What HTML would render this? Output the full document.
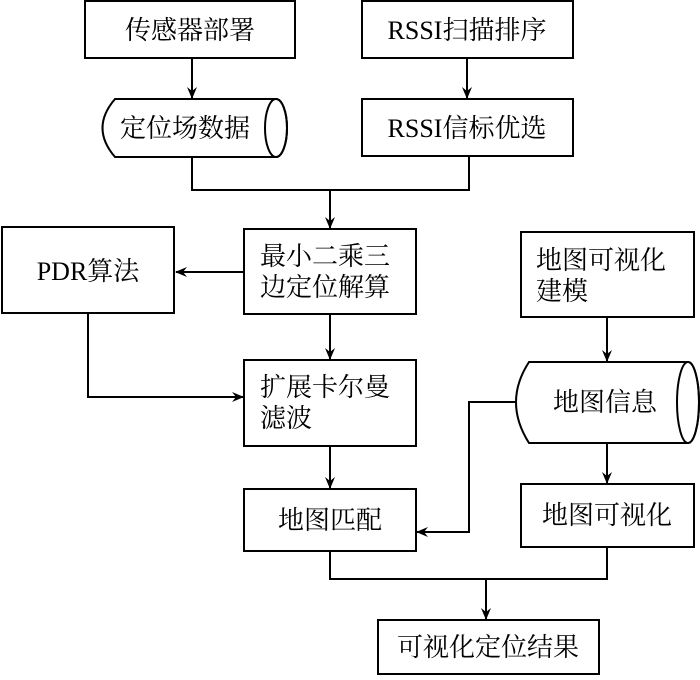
<!DOCTYPE html>
<html><head><meta charset="utf-8"><style>
html,body{margin:0;padding:0;background:#fff;}
svg text{font-family:"Liberation Serif","Noto Serif CJK SC",serif;font-size:26px;fill:#000;}
</style></head><body>
<svg width="700" height="675" viewBox="0 0 700 675" xmlns="http://www.w3.org/2000/svg">
<defs><marker id="a" markerWidth="12" markerHeight="10" refX="11" refY="5" orient="auto" markerUnits="userSpaceOnUse"><path d="M0,0 L12,5 L0,10 L4,5 Z" fill="#000"/></marker></defs>
<g fill="none" stroke="#000" stroke-width="2">
<rect x="85" y="1" width="210" height="57"/>
<rect x="362" y="1" width="211" height="57"/>
<path d="M115,99 L276,99 A11,29 0 0 1 276,157 L115,157 Q90,128 115,99 Z"/>
<ellipse cx="276" cy="128" rx="11" ry="29"/>
<rect x="362" y="99" width="211" height="57"/>
<rect x="244" y="229" width="172" height="85"/>
<rect x="2" y="227" width="172" height="86"/>
<rect x="521" y="232" width="173" height="85"/>
<rect x="244" y="360" width="172" height="86"/>
<path d="M529,362 L688,362 A11,40.5 0 0 1 688,443 L529,443 Q503,402 529,362 Z"/>
<ellipse cx="688" cy="402.5" rx="11" ry="40.5"/>
<rect x="244" y="489" width="172" height="62"/>
<rect x="521" y="484" width="173" height="63"/>
<rect x="378" y="620" width="221" height="54"/>
<!-- connectors -->
<line x1="192" y1="58" x2="192" y2="98" marker-end="url(#a)"/>
<line x1="467" y1="58" x2="467" y2="98" marker-end="url(#a)"/>
<polyline points="192,157 192,190 469,190 469,156"/>
<line x1="330" y1="190" x2="330" y2="228" marker-end="url(#a)"/>
<line x1="244" y1="272" x2="176" y2="272" marker-end="url(#a)"/>
<polyline points="88,313 88,397 243,397" marker-end="url(#a)"/>
<line x1="330" y1="314" x2="330" y2="359" marker-end="url(#a)"/>
<line x1="607" y1="317" x2="607" y2="361" marker-end="url(#a)"/>
<polyline points="516,402 469,402 469,532 417,532" marker-end="url(#a)"/>
<line x1="330" y1="446" x2="330" y2="488" marker-end="url(#a)"/>
<line x1="607" y1="443" x2="607" y2="483" marker-end="url(#a)"/>
<polyline points="330,551 330,579 607,579 607,547"/>
<line x1="486" y1="579" x2="486" y2="619" marker-end="url(#a)"/>
</g>
<text x="190" y="39" text-anchor="middle">传感器部署</text>
<text x="467" y="39" text-anchor="middle">RSSI扫描排序</text>
<text x="185" y="137" text-anchor="middle">定位场数据</text>
<text x="467" y="137" text-anchor="middle">RSSI信标优选</text>
<text x="260" y="265">最小二乘三</text>
<text x="260" y="296">边定位解算</text>
<text x="88" y="280" text-anchor="middle">PDR算法</text>
<text x="536" y="269">地图可视化</text>
<text x="536" y="300">建模</text>
<text x="260" y="396">扩展卡尔曼</text>
<text x="260" y="427">滤波</text>
<text x="605" y="411" text-anchor="middle">地图信息</text>
<text x="330" y="529" text-anchor="middle">地图匹配</text>
<text x="607" y="524" text-anchor="middle">地图可视化</text>
<text x="488" y="656" text-anchor="middle">可视化定位结果</text>
</svg>
</body></html>
